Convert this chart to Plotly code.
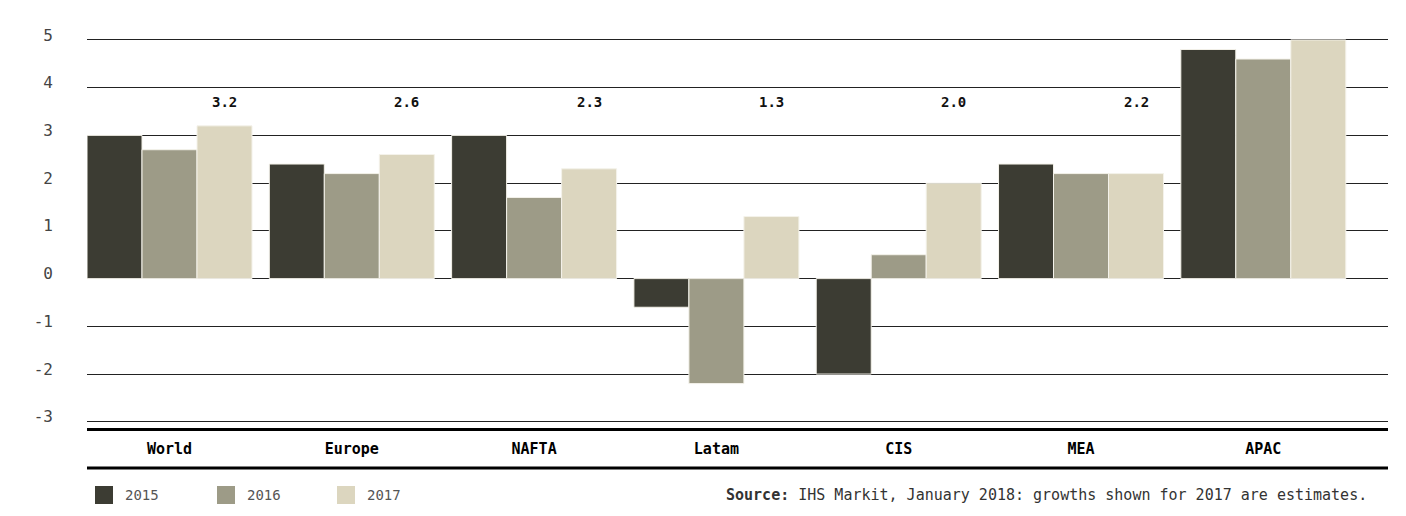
import plotly.graph_objects as go

# ---------------- data ----------------
regions = ["World", "Europe", "NAFTA", "Latam", "CIS", "MEA", "APAC"]
series_names = ["2015", "2016", "2017"]
growth_2015 = [3.0, 2.4, 3.0, -0.6, -2.0, 2.4, 4.8]
growth_2016 = [2.7, 2.2, 1.7, -2.2, 0.5, 2.2, 4.6]
growth_2017 = [3.2, 2.6, 2.3, 1.3, 2.0, 2.2, 5.0]
y_ticks = [5, 4, 3, 2, 1, 0, -1, -2, -3]
source_text = "<b>Source:</b> IHS Markit, January 2018: growths shown for 2017 are estimates."

colors = ["#3c3c33", "#9d9b87", "#dcd6bf"]
FONT = "DejaVu Sans Mono"

# geometry (pixels)
W, H = 1406, 516
L, R, T, B = 87, 1388, 28, 428
PW, PH = R - L, B - T


def px_x(px):
    return (px - L) / PW


def px_y(py):
    return (B - py) / PH


x_idx = list(range(len(regions)))
fig = go.Figure()
for name, vals, col in zip(series_names, [growth_2015, growth_2016, growth_2017], colors):
    fig.add_trace(go.Bar(
        x=x_idx, y=vals, name=name,
        marker=dict(color=col, line=dict(color="#f4f2ea", width=1)),
        showlegend=False,
    ))

# value labels for 2017 above groups
bar_w = 0.905 / 3
for i, v in enumerate(growth_2017):
    fig.add_annotation(
        x=i + bar_w, y=max(3.7, v + 0.5), xref="x", yref="y",
        text=f"<b>{v:.1f}</b>", showarrow=False,
        font=dict(family=FONT, size=14, color="#111"),
        xanchor="center", yanchor="middle",
    )

# custom legend
legend_px = [95, 217, 337]
sw = 18
ly = 495
for name, col, lx in zip(series_names, colors, legend_px):
    fig.add_shape(type="rect", xref="paper", yref="paper",
                  x0=px_x(lx), x1=px_x(lx + sw),
                  y0=px_y(ly + sw / 2), y1=px_y(ly - sw / 2),
                  fillcolor=col, line=dict(width=0))
    fig.add_annotation(x=px_x(lx + sw + 10), y=px_y(ly), xref="paper", yref="paper",
                       text=name, showarrow=False, xanchor="left", yanchor="middle",
                       font=dict(family=FONT, size=14, color="#555"))

# source
fig.add_annotation(x=px_x(1369), y=px_y(ly), xref="paper", yref="paper",
                   text=source_text, showarrow=False, xanchor="right", yanchor="middle",
                   font=dict(family=FONT, size=15, color="#333"))

# second thick rule under category labels
fig.add_shape(type="line", xref="paper", yref="paper", x0=0, x1=1,
              y0=px_y(468), y1=px_y(468), line=dict(color="#000", width=3))

fig.update_layout(
    width=W, height=H,
    margin=dict(l=L, r=W - R, t=T, b=H - B, pad=0),
    barmode="group", bargap=0.095, bargroupgap=0,
    plot_bgcolor="white", paper_bgcolor="white",
    font=dict(family=FONT),
    showlegend=False,
)
fig.update_xaxes(
    range=[-0.4526, 6.684], tickvals=x_idx, ticktext=[f"<b>{r}</b>" for r in regions],
    showgrid=False, zeroline=False, showline=True, linecolor="#000", linewidth=3,
    ticks="", ticklabelstandoff=5,
    tickfont=dict(family=FONT, size=15, color="#000"),
)
fig.update_yaxes(
    range=[-3.13, 5.25], tickvals=y_ticks, ticktext=[str(t) for t in y_ticks],
    showgrid=True, gridcolor="#222", gridwidth=1, zeroline=False,
    showline=False, ticks="", ticklabelstandoff=33, ticklabelshift=-5,
    tickfont=dict(family=FONT, size=16, color="#444"),
)

fig.write_html("out.html")
